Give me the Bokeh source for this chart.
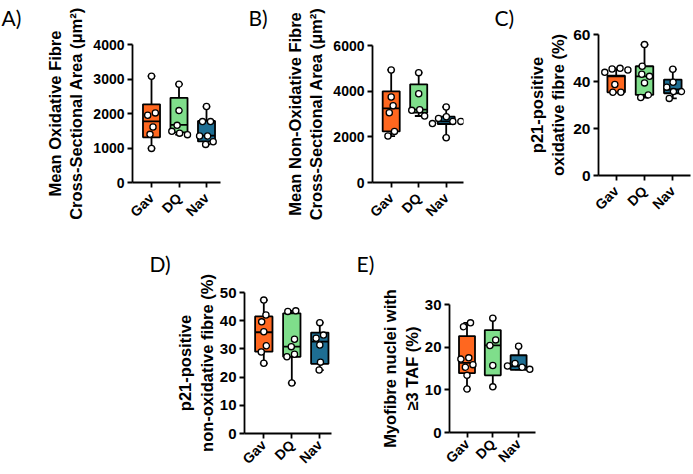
import numpy as np
from bokeh.plotting import figure
from bokeh.models import Range1d, FixedTicker, Label
from bokeh.layouts import row, column
from bokeh.embed import file_html
from bokeh.resources import INLINE

# ---------------- data ----------------
groups = ["Gav", "DQ", "Nav"]
colors = ["#FF671F", "#7FDE8B", "#1E6E93"]

# A) Mean oxidative fibre CSA (um^2)
a_gav = [3081, 2017, 1948, 1610, 1395, 988]
a_dq = [2849, 2084, 1657, 1483, 1430, 1387]
a_nav = [2201, 1765, 1765, 1349, 1349, 1183, 1105]
a_q1 = [1308, 1453, 1192]
a_med = [1773, 1668, 1358]
a_q3 = [2267, 2453, 1785]
a_ticks = [0, 1000, 2000, 3000, 4000]

# B) Mean non-oxidative fibre CSA (um^2)
b_gav = [4930, 3746, 3364, 3057, 2237, 2035]
b_dq = [4811, 3890, 3189, 3160, 2912]
b_nav = [3307, 2881, 2807, 2676, 2676, 2580, 1961]
b_q1 = [2237, 3057, 2561]
b_med = [3246, 3189, 2676]
b_q3 = [3991, 4298, 2881]
b_ticks = [0, 2000, 4000, 6000]

# C) p21-positive oxidative fibre (%)
c_gav = [45.6, 45.3, 44.9, 43.9, 38.7, 35.4, 35.4]
c_dq = [55.7, 46.5, 43.1, 42.2, 39.4, 34.3, 33.2]
c_nav = [45.2, 39.7, 37.6, 35.7, 35.7, 32.8]
c_q1 = [35.4, 34.3, 35.0]
c_med = [42.2, 42.2, 36.6]
c_q3 = [42.5, 46.5, 40.8]
c_ticks = [0, 20, 40, 60]

# D) p21-positive non-oxidative fibre (%)
d_gav = [47.3, 42.0, 39.6, 36.1, 31.1, 28.9, 24.9]
d_dq = [43.5, 43.3, 33.4, 30.8, 28.1, 27.2, 17.9]
d_nav = [39.3, 34.9, 33.8, 31.4, 25.3, 22.5]
d_q1 = [29.0, 27.2, 24.7]
d_med = [35.9, 30.8, 32.6]
d_q3 = [41.5, 42.6, 35.8]
d_ticks = [0, 10, 20, 30, 40, 50]

# E) Myofibre nuclei with >=3 TAF (%)
e_gav = [25.7, 24.8, 17.5, 17.2, 15.9, 15.3, 13.4, 10.2]
e_dq = [26.8, 21.7, 20.4, 15.7, 10.7]
e_nav = [20.2, 16.2, 15.6, 15.3, 14.8]
e_q1 = [13.9, 13.4, 14.7]
e_med = [16.3, 20.4, 15.5]
e_q3 = [22.6, 24.0, 18.1]
e_ticks = [0, 10, 20, 30]

AX_FONT = "Liberation Sans"
LETTER_FONT = "Lato"


def swarm(vals, ypx, xpx, d=8.0):
    """beeswarm offsets (in x data units) so markers do not overlap"""
    vals = np.asarray(vals, dtype=float)
    order = np.argsort(-vals, kind="stable")
    px = np.zeros(len(vals))
    placed = []
    for i in order:
        y = vals[i] * ypx
        forb = []
        for j in placed:
            dy = abs(y - vals[j] * ypx)
            if dy < d:
                h = np.sqrt(d * d - dy * dy)
                forb.append((px[j] - h, px[j] + h))
        cands = [0.0] + [e for iv in forb for e in iv]
        cands.sort(key=lambda c: (round(abs(c), 6), c))
        chosen = 0.0
        for c in cands:
            if all(not (lo + 1e-6 < c < hi - 1e-6) for lo, hi in forb):
                chosen = c
                break
        px[i] = chosen
        placed.append(i)
    n = len(vals)
    comp = list(range(n))

    def find(a):
        while comp[a] != a:
            a = comp[a]
        return a
    for i in range(n):
        for j in range(i + 1, n):
            dist = np.hypot(px[i] - px[j], (vals[i] - vals[j]) * ypx)
            if dist < d + 0.5:
                comp[find(i)] = find(j)
    roots = [find(i) for i in range(n)]
    for r in set(roots):
        idx = [i for i in range(n) if roots[i] == r]
        if len(idx) > 1:
            px[idx] -= np.mean(px[idx])
    return px / xpx


def panel(series, q1, med, q3, ticks, ppu_x, x_first_px, fw, fh,
          bl, br, bt, bb, title, title_standoff, letter, letter_xy,
          tick_fs="14px", cat_fs="14px", cat_standoff=8):
    ymax = ticks[-1]
    x0 = 1 - x_first_px / ppu_x
    x1 = x0 + fw / ppu_x
    p = figure(frame_width=fw, frame_height=fh,
               min_border_left=bl, min_border_right=br,
               min_border_top=bt, min_border_bottom=bb,
               x_range=Range1d(x0, x1), y_range=Range1d(0, ymax),
               toolbar_location=None, output_backend="svg")
    p.outline_line_color = None
    p.xgrid.visible = False
    p.ygrid.visible = False

    xs = [1, 2, 3]
    bw = 0.62
    lw = 1.8
    hi = [max(s) for s in series]
    lo = [min(s) for s in series]
    p.segment(x0=xs, y0=q3, x1=xs, y1=hi, line_color="black", line_width=lw)
    p.segment(x0=xs, y0=q1, x1=xs, y1=lo, line_color="black", line_width=lw)
    cw = 0.14
    p.segment(x0=[x - cw for x in xs], y0=hi, x1=[x + cw for x in xs], y1=hi,
              line_color="black", line_width=lw)
    p.segment(x0=[x - cw for x in xs], y0=lo, x1=[x + cw for x in xs], y1=lo,
              line_color="black", line_width=lw)
    p.vbar(x=xs, width=bw, bottom=q1, top=q3, fill_color=colors,
           line_color="black", line_width=lw)
    p.segment(x0=[x - bw / 2 for x in xs], y0=med, x1=[x + bw / 2 for x in xs], y1=med,
              line_color="black", line_width=lw)
    ypx = fh / ymax
    for k, s in enumerate(series):
        dx = swarm(s, ypx, ppu_x)
        p.scatter(x=[xs[k] + d for d in dx], y=s, marker="circle", size=6.2,
                  fill_color="white", line_color="black", line_width=1.3)

    for ax in (p.xaxis[0], p.yaxis[0]):
        ax.axis_line_width = lw
        ax.axis_line_color = "black"
        ax.major_tick_line_width = lw
        ax.major_tick_line_color = "black"
        ax.major_tick_in = 0
        ax.major_tick_out = 5
        ax.minor_tick_line_color = None
        ax.major_label_text_font = AX_FONT
        ax.major_label_text_font_style = "bold"
        ax.major_label_text_color = "black"
    yax = p.yaxis[0]
    yax.ticker = FixedTicker(ticks=ticks)
    yax.major_label_text_font_size = tick_fs
    yax.major_label_standoff = 3
    yax.axis_label = title
    yax.axis_label_text_font = AX_FONT
    yax.axis_label_text_font_style = "bold"
    yax.axis_label_text_font_size = "16.5px"
    yax.axis_label_text_color = "black"
    yax.axis_label_standoff = title_standoff
    xax = p.xaxis[0]
    xax.ticker = FixedTicker(ticks=xs)
    xax.major_label_overrides = {1: groups[0], 2: groups[1], 3: groups[2]}
    xax.major_label_orientation = np.pi / 4
    xax.major_label_text_font_size = cat_fs
    xax.major_label_text_align = "right"
    xax.major_label_text_baseline = "middle"
    xax.major_label_standoff = cat_standoff

    # panel letter, placed in the panel above the frame (not clipped)
    p.add_layout(Label(x=letter_xy[0], y=letter_xy[1], x_units="screen", y_units="screen",
                       text=letter, text_align="left", text_baseline="alphabetic",
                       text_font=LETTER_FONT, text_font_size="21px",
                       text_color="black"), "above")
    return p


pA = panel([a_gav, a_dq, a_nav], a_q1, a_med, a_q3, a_ticks, 27.5, 19, 88, 138,
           132, 28, 44, 68,
           "Mean Oxidative Fibre\nCross-Sectional Area (\u03bcm\u00b2)", 5,
           "A)", (-131, 27))
pB = panel([b_gav, b_dq, b_nav], b_q1, b_med, b_q3, b_ticks, 27.5, 18.7, 91, 137,
           124, 22, 45, 68,
           "Mean Non-Oxidative Fibre\nCross-Sectional Area (\u03bcm\u00b2)", 5,
           "B)", (-124, 28))
pC = panel([c_gav, c_dq, c_nav], c_q1, c_med, c_q3, c_ticks, 28.3, 17.7, 92, 141,
           113, 3, 34, 75,
           "p21-positive\noxidative fibre (%)", 3,
           "C)", (-104, 17.5), tick_fs="15.5px")
pD = panel([d_gav, d_dq, d_nav], d_q1, d_med, d_q3, d_ticks, 28, 19.3, 87, 141,
           244, 10, 42, 41,
           "p21-positive\nnon-oxidative fibre (%)", 1,
           "D)", (-95, 29.5), tick_fs="15px", cat_standoff=4)
pE = panel([e_gav, e_dq, e_nav], e_q1, e_med, e_q3, e_ticks, 25.8, 17.5, 86, 128,
           108, 10, 54, 42,
           "Myofibre nuclei with\n\u22653 TAF (%)", 1,
           "E)", (-93, 41.5), tick_fs="15px", cat_standoff=4)

layout = column(row(column(pA), column(pB), column(pC), spacing=0),
                row(column(pD), column(pE), spacing=0), spacing=0)
open("out.html", "w").write(file_html(layout, INLINE))
